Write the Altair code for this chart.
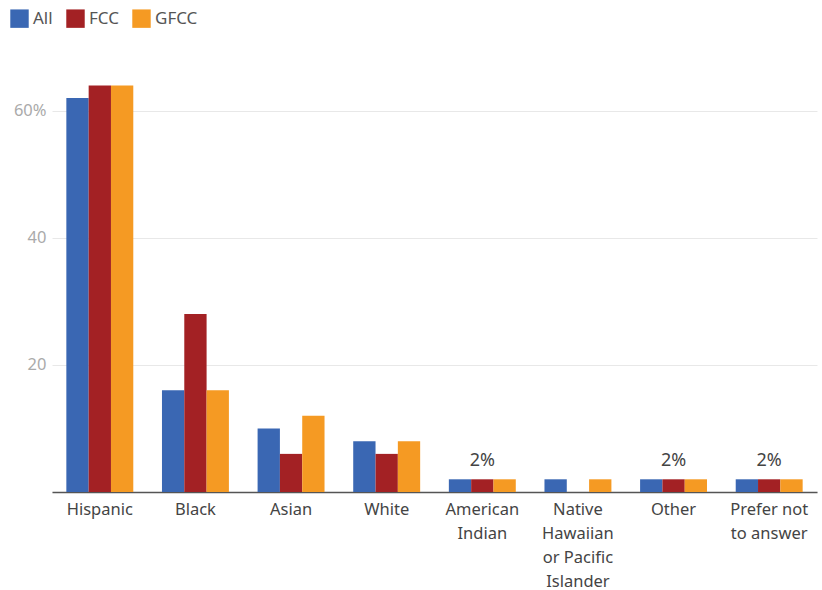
import altair as alt
import pandas as pd

categories = ["Hispanic", "Black", "Asian", "White", "American\nIndian",
              "Native\nHawaiian\nor Pacific\nIslander", "Other", "Prefer not\nto answer"]
series = ["All", "FCC", "GFCC"]
all_vals = [62, 16, 10, 8, 2, 2, 2, 2]
fcc_vals = [64, 28, 6, 6, 2, 0, 2, 2]
gfcc_vals = [64, 16, 12, 8, 2, 2, 2, 2]
colors = ["#3a67b3", "#a32124", "#f59a23"]
note_cats = ["American\nIndian", "Other", "Prefer not\nto answer"]
note_vals = [2, 2, 2]
note_text = ["2%", "2%", "2%"]

rows = []
for s, vals in zip(series, [all_vals, fcc_vals, gfcc_vals]):
    for c, v in zip(categories, vals):
        rows.append({"cat": c, "series": s, "value": v})
df = pd.DataFrame(rows)
notes = pd.DataFrame({"cat": note_cats, "value": note_vals, "text": note_text})

FONT = "Noto Sans"

x = alt.X("cat:N", sort=categories, title=None,
          scale=alt.Scale(paddingInner=0.3, paddingOuter=0.15),
          axis=alt.Axis(labelAngle=0, labelExpr="split(datum.label, '\\n')",
                        labelFontSize=16.5, labelColor="#444", labelFont=FONT,
                        labelLineHeight=24, labelPadding=9, ticks=False,
                        domainColor="#555", domainWidth=1.5, labelBaseline="top"))
y = alt.Y("value:Q", title=None,
          scale=alt.Scale(domain=[0, 68], nice=False),
          axis=alt.Axis(values=[0, 20, 40, 60],
                        labelExpr="datum.value == 60 ? '60%' : datum.value == 0 ? '' : datum.label",
                        labelFontSize=16.5, labelColor="#aaa", labelFont=FONT,
                        domain=False, ticks=False, gridColor="#e8e8e8", labelPadding=6))

bars = alt.Chart(df).mark_bar().encode(
    x=x, y=y,
    xOffset=alt.XOffset("series:N", sort=series, scale=alt.Scale(paddingInner=0, paddingOuter=0)),
    color=alt.Color("series:N", sort=series,
                    scale=alt.Scale(domain=series, range=colors),
                    legend=alt.Legend(title=None, orient="none", legendX=-42, legendY=-51,
                                      direction="horizontal", symbolType="square",
                                      symbolSize=340, symbolStrokeWidth=0, symbolOpacity=1,
                                      labelFontSize=17, labelFont=FONT, labelColor="#555",
                                      columnPadding=13, labelOffset=4)),
)

text = alt.Chart(notes).mark_text(baseline="bottom", dy=-9, fontSize=18,
                                  font=FONT, color="#444").encode(
    x=alt.X("cat:N", sort=categories), y=alt.Y("value:Q"), text="text:N")

chart = alt.layer(bars, text).properties(
    width=765, height=432,
    autosize=alt.AutoSizeParams(type="none"),
    padding={"left": 52, "top": 60, "right": 5, "bottom": 98},
).configure_view(stroke=None)

chart.save("out.html", embed_options={"renderer": "svg", "actions": False})
